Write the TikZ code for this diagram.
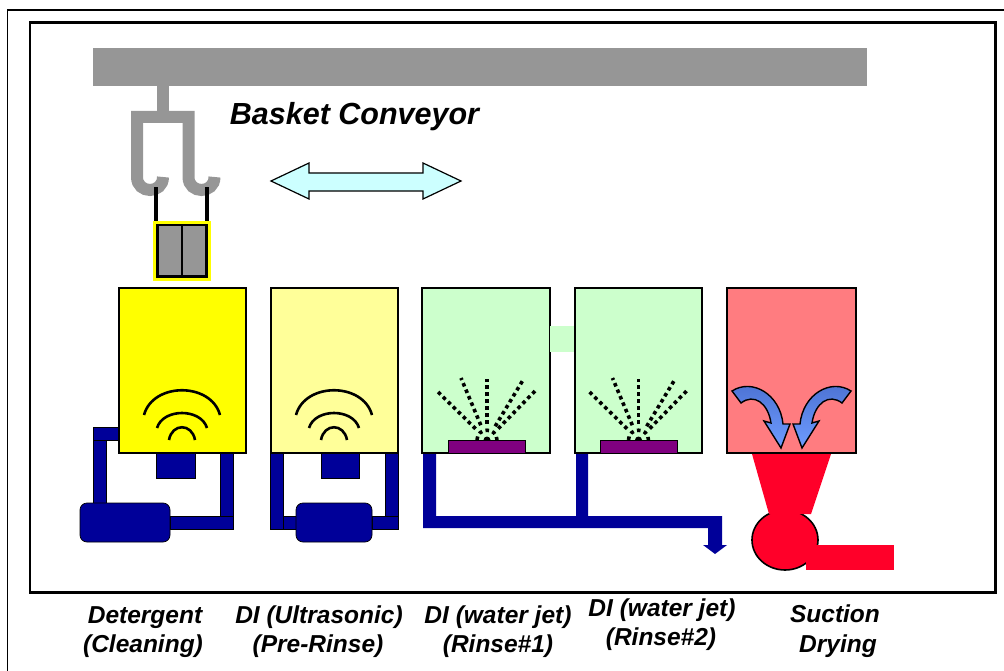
\documentclass[tikz,border=0pt]{standalone}
\usepackage{fontspec}
\setmainfont{Liberation Sans}
\definecolor{barGray}{HTML}{969696}
\definecolor{navy}{HTML}{000099}
\definecolor{tankYellow}{HTML}{FFFF00}
\definecolor{tankPale}{HTML}{FFFF99}
\definecolor{tankGreen}{HTML}{CCFFCC}
\definecolor{tankPink}{HTML}{FF7C80}
\definecolor{suctionRed}{HTML}{FF0029}
\definecolor{nozzle}{HTML}{800080}
\definecolor{moveCyan}{HTML}{CCFFFF}
\definecolor{airDark}{HTML}{4A6FD0}
\definecolor{airLight}{HTML}{6E9CFF}
\begin{document}
\begin{tikzpicture}[x=1bp,y=-1bp,
  tank/.style={draw=black,line width=2bp},
  pipe/.style={fill=navy,draw=black,line width=0.7bp},
  hanger/.style={draw=barGray,line width=12bp,line cap=butt,line join=miter},
  wave/.style={draw=black,line width=2.6bp},
  jet/.style={draw=black,line width=3.6bp,dash pattern=on 3.6bp off 3.4bp},
  airflow/.style={draw=black,line width=1.4bp,top color=airDark,bottom color=airLight},
  caption/.style={font=\fontsize{24.5bp}{29bp}\selectfont\bfseries\itshape,anchor=base,inner sep=0pt},
]
\useasboundingbox (0,0) rectangle (1004,671);

% frames
\draw[line width=1.5bp] (1004,10) -- (7.5,10) -- (7.5,671);
\draw[line width=2.2bp] (30,22.5) rectangle (995.5,592.5);

% overhead rail and hanger
\fill[barGray] (93,48) rectangle (867,86);
\draw[hanger] (163,85) -- (163,117);
\draw[hanger] (163,177) .. controls (163,194.3) and (137,194.3) .. (137,177)
  -- (137,117) -- (188.5,117) -- (188.5,177)
  .. controls (188.5,194.3) and (214.5,194.3) .. (214.5,177);
\draw[line width=4bp] (156,187) -- (156,225);
\draw[line width=4bp] (207,187) -- (207,225);

% basket
\draw[tankYellow,line width=3bp] (154.5,222.5) rectangle (209.5,279);
\draw[fill=barGray,line width=2.5bp] (157.5,225) rectangle (206.5,276.5);
\draw[line width=2.5bp] (182,225) -- (182,276.5);

% title and travel arrow
\node[font=\fontsize{30.5bp}{36bp}\selectfont\bfseries\itshape,anchor=base,inner sep=0pt]
  (title) at (354.5,125) {Basket Conveyor};
\draw[fill=moveCyan,line width=1.2bp] (271,181) -- (309,163) -- (309,173) -- (423,173)
  -- (423,163) -- (461,181) -- (423,199) -- (423,191) -- (309,191) -- (309,199) -- cycle;

% pumps and piping of the ultrasonic tanks
\path[pipe] (93,427) rectangle (119,440);
\path[pipe] (93,440) rectangle (106,504);
\path[pipe] (220,453) rectangle (233,516);
\path[pipe] (170,516) rectangle (233,529);
\path[pipe,rounded corners=7bp] (80,503) rectangle (170,542);
\path[pipe] (156,453) rectangle (195,478);

\path[pipe] (270,453) rectangle (283,529);
\path[pipe] (283,516) rectangle (297,529);
\path[pipe] (385,453) rectangle (398,516);
\path[pipe] (372,516) rectangle (398,529);
\path[pipe,rounded corners=7bp] (296,503) rectangle (372,542);
\path[pipe] (321,453) rectangle (359,478);

% drain of the rinse tanks
\fill[navy] (423,453) -- (436,453) -- (436,516) -- (576,516) -- (576,453) -- (588,453)
  -- (588,516) -- (722,516) -- (722,545) -- (727,545) -- (715,554) -- (703,545)
  -- (708,545) -- (708,528) -- (423,528) -- cycle;

% tanks
\path[tank,fill=tankYellow] (119,288) rectangle (246,453);
\path[tank,fill=tankPale] (271,288) rectangle (398,453);
\path[tank,fill=tankGreen] (422,288) rectangle (550,453);
\path[tank,fill=tankGreen] (575,288) rectangle (702,453);
\path[tank,fill=tankPink] (727,288) rectangle (856,453);
\fill[tankGreen] (550,326) rectangle (574,352);

% ultrasonic waves
\foreach \dx in {0,152} {
  \draw[wave] ({144+\dx},415) .. controls ({153+\dx},382) and ({211+\dx},382) .. ({220+\dx},415);
  \draw[wave] ({157+\dx},428) .. controls ({163+\dx},408) and ({201+\dx},408) .. ({207+\dx},428);
  \draw[wave] ({169+\dx},440) .. controls ({172+\dx},423) and ({192+\dx},423) .. ({195+\dx},440);
}

% water jets
\foreach \cx in {487,638.5} {
  \fill ({\cx},440) circle (3.5);
  \draw[jet] ({\cx-10},440) .. controls ({\cx-10},427) and ({\cx+10},427) .. ({\cx+10},440);
  \foreach \sx/\sy/\ex/\ey in {-11.4/-11.2/-51/-50,-6.2/-14.8/-26/-62,0/-16/0/-61,8.2/-13.7/36/-60,11.2/-11.4/49/-50}
    \draw[jet] ({\cx+\sx},{440+\sy}) -- ({\cx+\ex},{440+\ey});
}
\draw[fill=nozzle,line width=0.8bp] (448,440) rectangle (525,453);
\draw[fill=nozzle,line width=0.8bp] (600,440) rectangle (677,453);

% suction fan and air flow
\draw[fill=suctionRed,line width=1.6bp] (785,540) ellipse [x radius=33,y radius=30];
\fill[suctionRed] (752,454) -- (831,454) -- (811,514) -- (769,514) -- cycle;
\fill[suctionRed] (806,545) rectangle (894,570);
\path[airflow] (732,391) .. controls (752,378) and (780,394) .. (783,424) -- (790,424)
  -- (781,448) -- (764,421) -- (771,423) .. controls (768,403) and (754,393) .. (741,403) -- cycle;
\path[airflow] (851,391) .. controls (831,378) and (803,394) .. (800,424) -- (793,424)
  -- (802,448) -- (819,421) -- (812,423) .. controls (815,403) and (829,393) .. (842,403) -- cycle;

% captions
\node[caption] (c1a) at (145,623) {Detergent};
\node[caption] (c1b) at (143,652) {(Cleaning)};
\node[caption] (c2a) at (319,623) {DI (Ultrasonic)};
\node[caption] (c2b) at (318,652) {(Pre-Rinse)};
\node[caption] (c3a) at (498,623) {DI (water jet)};
\node[caption] (c3b) at (498,652) {(Rinse\#1)};
\node[caption] (c4a) at (662,616) {DI (water jet)};
\node[caption] (c4b) at (661,645) {(Rinse\#2)};
\node[caption] (c5a) at (835,622) {Suction};
\node[caption] (c5b) at (838,652) {Drying};
\end{tikzpicture}
\end{document}
